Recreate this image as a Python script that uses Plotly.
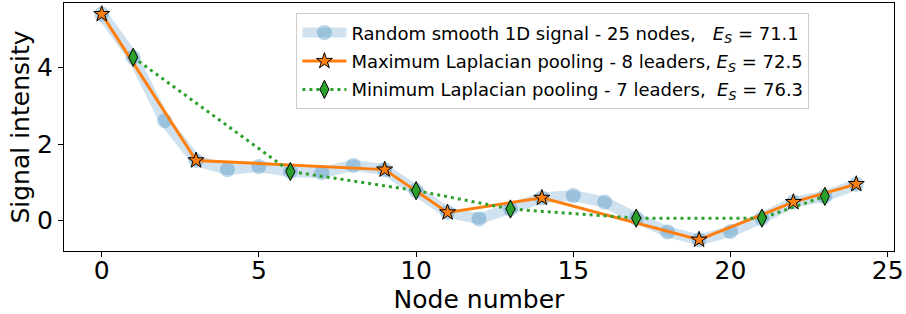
import plotly.graph_objects as go

nodes = list(range(25))
signal = [5.40, 4.27, 2.61, 1.57, 1.33, 1.41, 1.28, 1.25, 1.44, 1.33, 0.78, 0.21, 0.04,
          0.30, 0.59, 0.65, 0.48, 0.06, -0.30, -0.505, -0.29, 0.06, 0.48, 0.63, 0.95]
max_leaders = [0, 3, 9, 11, 14, 19, 22, 24]
min_leaders = [1, 6, 10, 13, 17, 21, 23]
energies = [71.1, 72.5, 76.3]
x_ticks = [0, 5, 10, 15, 20, 25]
y_ticks = [0, 2, 4]

nb = "\u00a0"
names = [
    f"Random smooth 1D signal - 25 nodes,{nb*3}<i>E<sub>S</sub></i> = {energies[0]}",
    f"Maximum Laplacian pooling - 8 leaders, <i>E<sub>S</sub></i> = {energies[1]}",
    f"Minimum Laplacian pooling - 7 leaders,{nb*2}<i>E<sub>S</sub></i> = {energies[2]}",
]

fig = go.Figure()
fig.add_trace(go.Scatter(
    x=nodes, y=signal, mode="lines+markers", name=names[0], legendgroup="a",
    line=dict(color="rgba(31,119,180,0.21)", width=11),
    marker=dict(color="rgba(31,119,180,0.30)", size=15, line=dict(width=0)),
))
fig.add_trace(go.Scatter(
    x=max_leaders, y=[signal[i] for i in max_leaders], mode="lines+markers", name=names[1],
    legendgroup="b",
    line=dict(color="#ff7f0e", width=3),
    marker=dict(symbol="star", color="#ff7f0e", size=12, line=dict(color="black", width=1)),
))
fig.add_trace(go.Scatter(
    x=min_leaders, y=[signal[i] for i in min_leaders], mode="lines+markers", name=names[2],
    legendgroup="c",
    line=dict(color="#2ca02c", width=3, dash="3px,4px"),
    marker=dict(symbol="diamond-tall", color="#2ca02c", size=13, line=dict(color="black", width=1)),
))

axis_common = dict(
    showline=True, linecolor="black", linewidth=1, mirror=True,
    ticks="outside", ticklen=5, tickcolor="black", tickwidth=1,
    showgrid=False, zeroline=False, automargin=False,
    tickfont=dict(size=25, color="black"),
)
fig.update_xaxes(range=[-1.2, 25.2], tickvals=x_ticks, ticklabelstandoff=-8, **axis_common,
                 title=dict(text="Node number", font=dict(size=25, color="black"), standoff=0))
fig.update_yaxes(range=[-0.80, 5.69], tickvals=y_ticks, **axis_common,
                 title=dict(text="Signal intensity", font=dict(size=25, color="black"), standoff=0))

fig.update_layout(
    width=906, height=314,
    margin=dict(l=64, r=12, t=3, b=63),
    plot_bgcolor="white", paper_bgcolor="white",
    font=dict(family="DejaVu Sans", color="black"),
    legend=dict(
        x=0.28, y=0.958, xanchor="left", yanchor="top",
        bgcolor="rgba(255,255,255,0.8)", bordercolor="#cccccc", borderwidth=1,
        font=dict(size=18, color="black"),
        tracegroupgap=2, itemwidth=44,
    ),
)

fig.write_html("out.html", config={"displayModeBar": False},
               post_script="document.body.style.margin='0px';")
